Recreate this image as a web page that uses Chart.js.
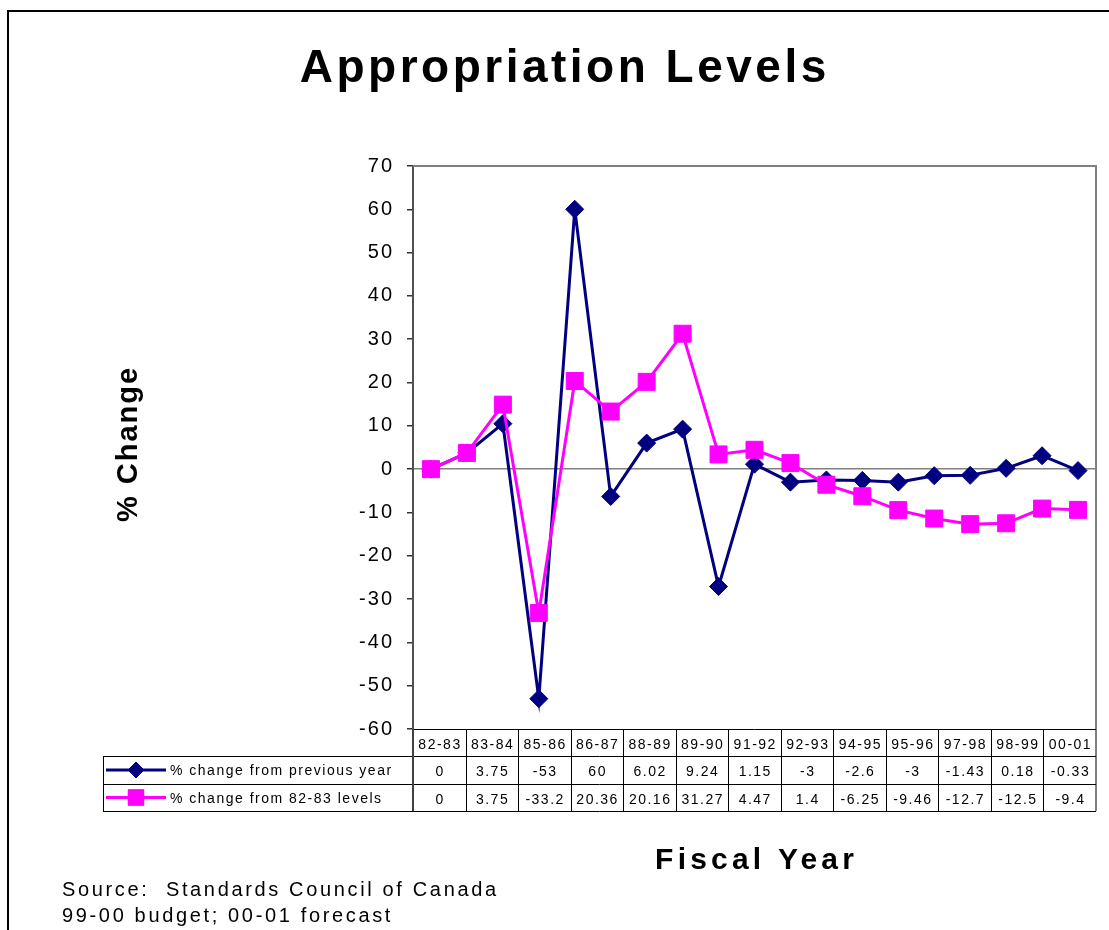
<!DOCTYPE html>
<html>
<head>
<meta charset="utf-8">
<script src="https://cdn.jsdelivr.net/npm/chart.js"></script>
<style>
  body { margin: 0; background: #fff; }
  #wrap { width: 1109px; height: 930px; }
</style>
</head>
<body>
<div id="wrap"><canvas id="appChart" width="1109" height="930"></canvas></div>
<script>
// all fiscal years plotted
var years = ['82-83','83-84','84-85','85-86','86-87','87-88','88-89','89-90','90-91','91-92',
             '92-93','93-94','94-95','95-96','96-97','97-98','98-99','99-00','00-01'];
var prevYear = [0, 3.75, 10.5, -53, 60, -6.3, 6.02, 9.24, -27.1, 1.15,
                -3, -2.5, -2.6, -3, -1.5, -1.43, 0.18, 3.1, -0.33];
var from8283 = [0, 3.75, 14.9, -33.2, 20.36, 13.3, 20.16, 31.27, 3.4, 4.47,
                1.4, -3.6, -6.25, -9.46, -11.4, -12.7, -12.5, -9.1, -9.4];

// data table under the plot
var tableYears = ['82-83','83-84','85-86','86-87','88-89','89-90','91-92','92-93','94-95','95-96','97-98','98-99','00-01'];
var tablePrev = ['0','3.75','-53','60','6.02','9.24','1.15','-3','-2.6','-3','-1.43','0.18','-0.33'];
var tableLevels = ['0','3.75','-33.2','20.36','20.16','31.27','4.47','1.4','-6.25','-9.46','-12.7','-12.5','-9.4'];
var seriesNames = ['% change from previous year', '% change from 82-83 levels'];

var yMin = -60, yMax = 70, yStep = 10;

var FONT = "'Liberation Sans', Arial, sans-serif";
var NAVY = '#000080', PINK = '#FF00FF';

function spacedText(ctx, txt, x, y, ls, align) {
  ctx.letterSpacing = ls + 'px';
  ctx.textAlign = align;
  // canvas adds spacing after the last glyph too, so shift back
  if (align === 'center') x += ls / 2;
  if (align === 'right') x += ls;
  ctx.fillText(txt, x, y);
}

var extras = {
  id: 'extras',
  beforeDraw: function(chart) {
    var ctx = chart.ctx;
    ctx.save();
    ctx.fillStyle = '#fff';
    ctx.fillRect(0, 0, chart.width, chart.height);
    ctx.restore();
    ctx.letterSpacing = '2px'; // used by the axis tick labels
  },
  afterDraw: function(chart) {
    var ctx = chart.ctx;
    var a = chart.chartArea;
    ctx.save();
    ctx.fillStyle = '#000';
    ctx.textBaseline = 'alphabetic';

    // outer frame
    ctx.strokeStyle = '#000';
    ctx.lineWidth = 2;
    ctx.beginPath();
    ctx.moveTo(8, 930); ctx.lineTo(8, 11); ctx.lineTo(1109, 11);
    ctx.stroke();

    // plot frame top / right
    ctx.strokeStyle = '#808080';
    ctx.lineWidth = 2;
    ctx.beginPath();
    ctx.moveTo(a.left, a.top); ctx.lineTo(a.right, a.top); ctx.lineTo(a.right, a.bottom + 82);
    ctx.stroke();

    // titles
    ctx.font = 'bold 46px ' + FONT;
    spacedText(ctx, 'Appropriation Levels', 563, 82, 3.5, 'center');

    ctx.font = 'bold 30px ' + FONT;
    spacedText(ctx, 'Fiscal Year', (a.left + a.right) / 2, 869, 4.2, 'center');

    ctx.save();
    ctx.translate(137, 445);
    ctx.rotate(-Math.PI / 2);
    ctx.font = 'bold 29px ' + FONT;
    spacedText(ctx, '% Change', 0, 0, 2, 'center');
    ctx.restore();

    ctx.font = '20px ' + FONT;
    spacedText(ctx, 'Source:  Standards Council of Canada', 62, 896, 2.65, 'left');
    spacedText(ctx, '99-00 budget; 00-01 forecast', 62, 922, 2.65, 'left');

    // data table
    var n = tableYears.length;
    var colW = (a.right - a.left) / n;
    var y0 = a.bottom, y1 = y0 + 27, y2 = y1 + 28, y3 = y2 + 27;
    var legL = 103;

    ctx.strokeStyle = '#000';
    ctx.lineWidth = 1;
    ctx.beginPath();
    ctx.moveTo(a.left, y0 + 0.5); ctx.lineTo(a.right, y0 + 0.5);
    ctx.moveTo(legL, y1 + 0.5); ctx.lineTo(a.right, y1 + 0.5);
    ctx.moveTo(legL, y2 + 0.5); ctx.lineTo(a.right, y2 + 0.5);
    ctx.moveTo(legL, y3 + 0.5); ctx.lineTo(a.right, y3 + 0.5);
    ctx.moveTo(legL + 0.5, y1); ctx.lineTo(legL + 0.5, y3);
    for (var i = 1; i < n; i++) {
      var cx = Math.round(a.left + i * colW) + 0.5;
      ctx.moveTo(cx, y0); ctx.lineTo(cx, y3);
    }
    ctx.stroke();
    ctx.strokeStyle = '#404040';
    ctx.lineWidth = 2;
    ctx.beginPath();
    ctx.moveTo(a.left, y0); ctx.lineTo(a.left, y3);
    ctx.stroke();

    ctx.font = '14px ' + FONT;
    for (var j = 0; j < n; j++) {
      var mx = a.left + (j + 0.5) * colW;
      spacedText(ctx, tableYears[j], mx, y0 + 20, 1.5, 'center');
      spacedText(ctx, tablePrev[j], mx, y1 + 20, 1.5, 'center');
      spacedText(ctx, tableLevels[j], mx, y2 + 20, 1.5, 'center');
    }

    // legend keys
    var keys = [
      {color: NAVY, style: 'rectRot', r: 8, y: (y1 + y2) / 2},
      {color: PINK, style: 'rect', r: 11, y: (y2 + y3) / 2}
    ];
    keys.forEach(function(k, idx) {
      ctx.strokeStyle = k.color;
      ctx.lineWidth = 3;
      ctx.beginPath();
      ctx.moveTo(106, k.y); ctx.lineTo(166, k.y);
      ctx.stroke();
      ctx.fillStyle = k.color;
      ctx.lineWidth = 1;
      Chart.helpers.drawPoint(ctx, {pointStyle: k.style, radius: k.r, rotation: 0, borderWidth: 1}, 136, k.y);
      ctx.fill();
      ctx.fillStyle = '#000';
      ctx.font = '14px ' + FONT;
      spacedText(ctx, seriesNames[idx], 170, k.y + 5, 1.5, 'left');
    });

    ctx.restore();
    ctx.letterSpacing = '0px';
  }
};

new Chart('appChart', {
  type: 'line',
  data: {
    labels: years,
    datasets: [{
      label: seriesNames[1],
      data: from8283,
      borderColor: PINK,
      backgroundColor: PINK,
      borderWidth: 3,
      pointStyle: 'rect',
      pointRadius: 12,
      pointBorderWidth: 1,
      pointHoverRadius: 12,
      fill: false,
      tension: 0,
      order: 0
    }, {
      label: seriesNames[0],
      data: prevYear,
      borderColor: NAVY,
      backgroundColor: NAVY,
      borderWidth: 3,
      pointStyle: 'rectRot',
      pointRadius: 9,
      pointBorderWidth: 1,
      pointHoverRadius: 9,
      fill: false,
      tension: 0,
      order: 1
    }]
  },
  options: {
    responsive: false,
    animation: false,
    layout: { padding: { top: 166, bottom: 201, right: 12, left: 0 } },
    plugins: {
      legend: { display: false },
      tooltip: { enabled: false }
    },
    scales: {
      x: {
        display: false,
        offset: true
      },
      y: {
        min: yMin,
        max: yMax,
        ticks: {
          stepSize: yStep,
          color: '#000',
          padding: 13,
          font: { family: FONT, size: 20 }
        },
        grid: {
          color: function(c) { return c.tick && c.tick.value === 0 ? '#808080' : 'rgba(0,0,0,0)'; },
          tickColor: '#333',
          tickLength: 6,
          lineWidth: 1.5
        },
        border: { color: '#505050', width: 2 },
        afterFit: function(scale) { scale.width = 413; }
      }
    }
  },
  plugins: [extras]
});
</script>
</body>
</html>
